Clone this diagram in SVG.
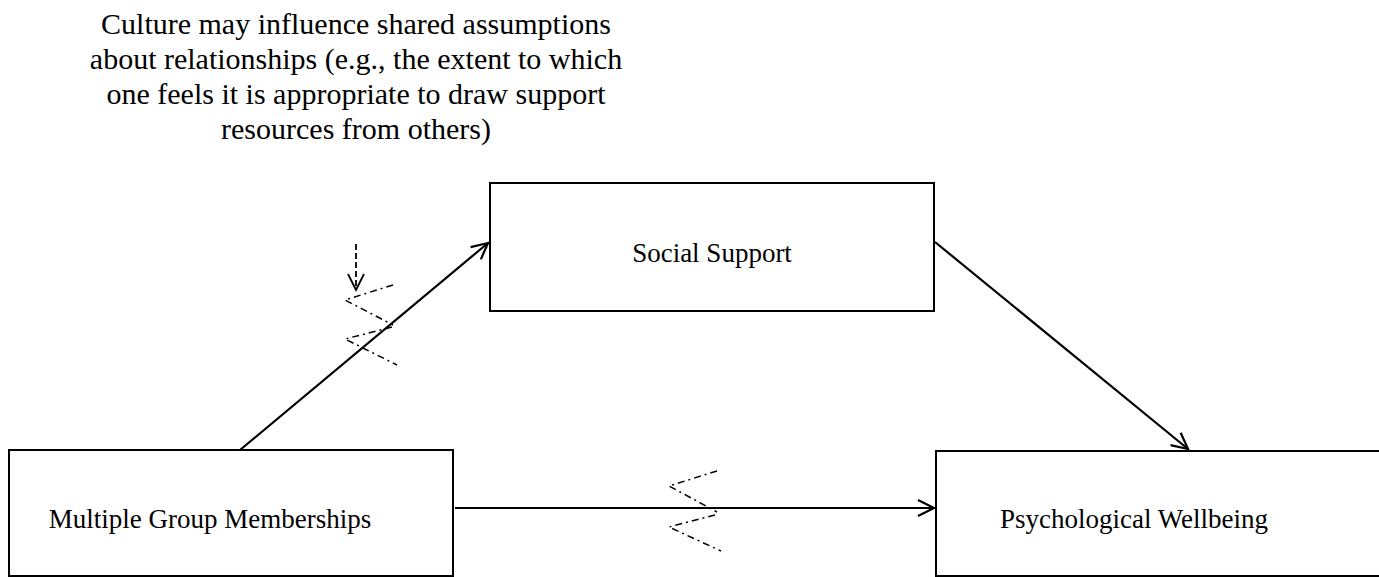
<svg xmlns="http://www.w3.org/2000/svg" width="1379" height="577" viewBox="0 0 1379 577">
<style>
.box{fill:#fff;stroke:#000;stroke-width:2}
.lbl{font-family:"Liberation Serif","Times New Roman",serif;font-size:27px;fill:#000;text-anchor:middle}
.note{font-family:"Liberation Serif","Times New Roman",serif;font-size:30px;fill:#000;text-anchor:middle}
.arr{stroke:#000;stroke-width:2.2;fill:none;marker-end:url(#open)}
.dash{stroke:#000;stroke-width:1.5;fill:none;stroke-dasharray:7 4 2 4}
.dsh{stroke:#000;stroke-width:1.8;fill:none;stroke-dasharray:6 3}
</style>
<defs>
<marker id="open" viewBox="0 0 20 20" refX="18" refY="10" markerWidth="20" markerHeight="20" markerUnits="userSpaceOnUse" orient="auto">
<path d="M2 2 L18 10 L2 18" fill="none" stroke="#000" stroke-width="2.2"/>
</marker>
</defs>
<rect width="1379" height="577" fill="#fff"/>
<g id="note">
<text class="note" x="356" y="34">Culture may influence shared assumptions</text>
<text class="note" x="356" y="69">about relationships (e.g., the extent to which</text>
<text class="note" x="356" y="104">one feels it is appropriate to draw support</text>
<text class="note" x="356" y="139">resources from others)</text>
</g>
<g id="social-support">
<rect class="box" x="490" y="183" width="444" height="128"/>
<text class="lbl" x="712" y="262">Social Support</text>
</g>
<g id="multiple-group-memberships">
<rect class="box" x="9" y="450" width="444" height="126"/>
<text class="lbl" x="210" y="528">Multiple Group Memberships</text>
</g>
<g id="psychological-wellbeing">
<rect class="box" x="936" y="451" width="450" height="125"/>
<text class="lbl" x="1134" y="528">Psychological Wellbeing</text>
</g>
<g id="connectors">
<line class="arr" x1="240" y1="450" x2="488" y2="243"/>
<line class="arr" x1="935" y1="242" x2="1188" y2="449"/>
<line class="arr" x1="455" y1="508" x2="934" y2="508"/>
<path class="dsh" d="M356 244 V288"/>
<path d="M348 274 L356 290 L364 274" fill="none" stroke="#000" stroke-width="1.8"/>
<path class="dash" d="M393 285 L345 300 L393 325"/>
<path class="dash" d="M392 327 L345 339 L397 365"/>
<path class="dash" d="M717 471 L669 486 L717 512"/>
<path class="dash" d="M715 515 L669 527 L721 551"/>
</g>
</svg>
